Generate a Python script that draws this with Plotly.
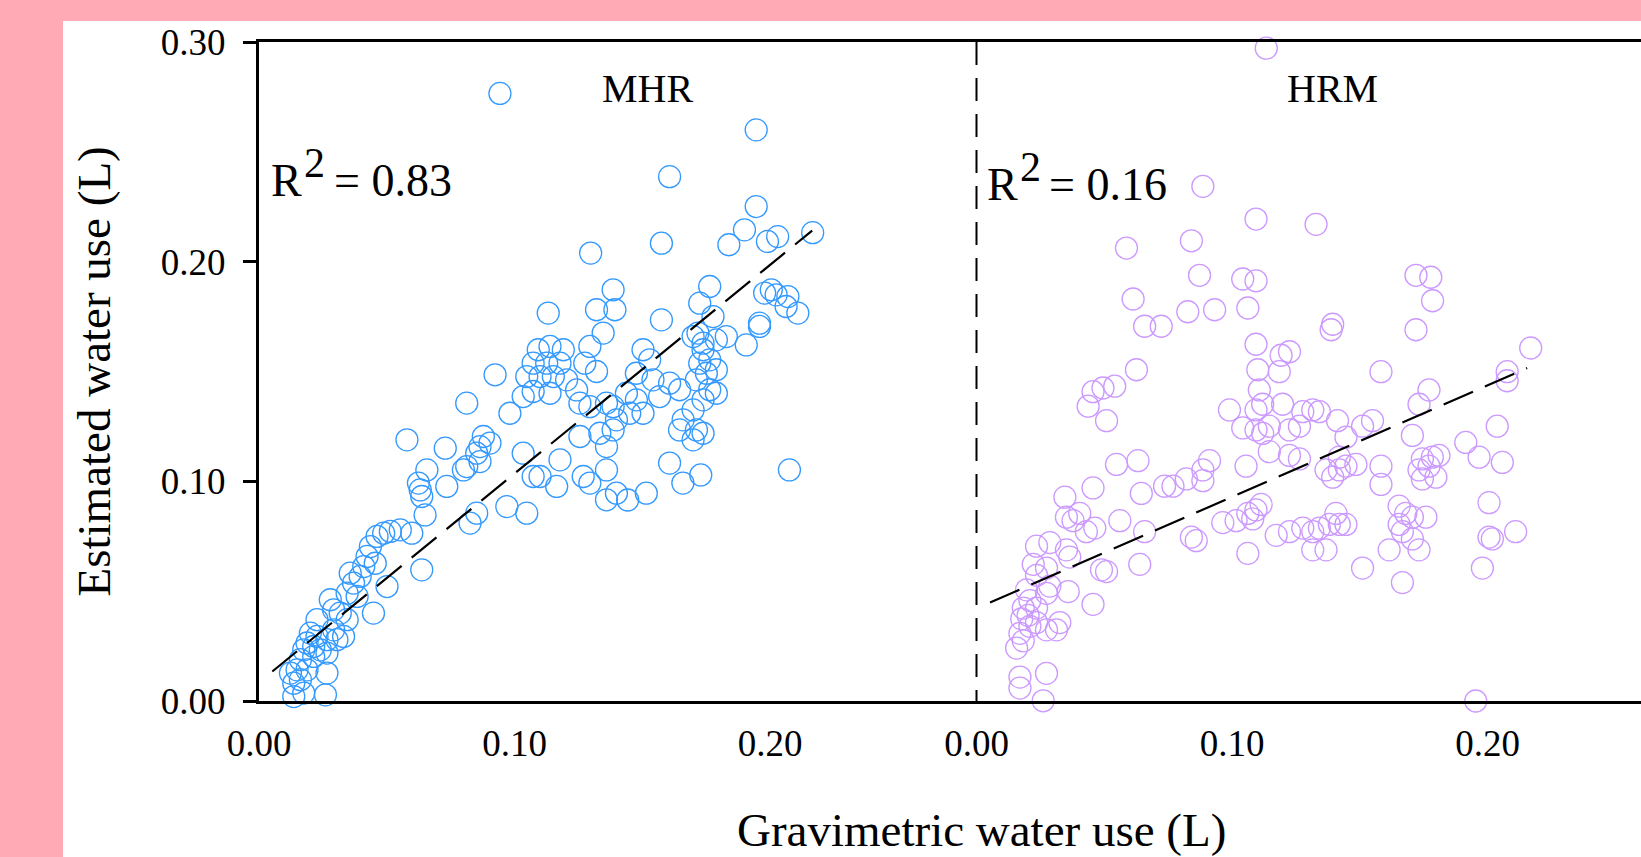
import numpy as np
import plotly.graph_objects as go

# ---------------- data ----------------
panel_titles = ["MHR", "HRM"]
r2_values = ["0.83", "0.16"]

mhr_x = [0.0943, 0.1946, 0.1607, 0.1946, 0.1900, 0.2030, 0.1990, 0.2167, 0.1839, 0.1575,
         0.1298, 0.1386, 0.1764, 0.1725, 0.1393, 0.1321, 0.1132, 0.1575, 0.1777,
         0.1979, 0.2005, 0.2024, 0.2070, 0.2109, 0.2063, 0.1959,
         0.1347, 0.1907, 0.1699, 0.1738, 0.1790, 0.1829, 0.1503, 0.1295,
         0.1093, 0.1139, 0.1191, 0.1073, 0.1126, 0.1178, 0.1048, 0.1100, 0.1152, 0.1204,
         0.1073, 0.1139, 0.1034, 0.1275, 0.1321, 0.1243,
         0.0924, 0.0813, 0.0982, 0.0878, 0.0865, 0.0904, 0.0852, 0.0800, 0.1034, 0.1073,
         0.1100, 0.1178, 0.1269, 0.1295,
         0.1360, 0.1360, 0.1386, 0.1399, 0.1451, 0.1334, 0.1256,
         0.1256, 0.1295, 0.1360, 0.1386, 0.1477, 0.1438, 0.1503,
         0.1568, 0.1607, 0.1646, 0.1529, 0.1477, 0.1542,
         0.1718, 0.1738, 0.1725, 0.1764, 0.1790, 0.1751, 0.1712, 0.1764, 0.1790, 0.1738,
         0.1699, 0.1660, 0.1646, 0.1712, 0.1738, 0.1699,
         0.1959, 0.1607, 0.1659, 0.1516, 0.1360, 0.1399, 0.2076, 0.0970, 0.1048, 0.0852,
         0.1443, 0.1729, 0.1165,
         0.0579, 0.0729, 0.0813, 0.0865, 0.0657, 0.0624, 0.0631, 0.0637, 0.0735, 0.0650,
         0.0826, 0.0598, 0.0553, 0.0514, 0.0488, 0.0462, 0.0637, 0.0436, 0.0423, 0.0410,
         0.0455, 0.0501, 0.0357, 0.0370, 0.0345, 0.0384, 0.0396, 0.0448, 0.0279, 0.0292,
         0.0318, 0.0345, 0.0331, 0.0292,
         0.0201, 0.0227, 0.0188, 0.0214, 0.0175, 0.0240, 0.0266, 0.0162, 0.0214, 0.0266,
         0.0305, 0.0149, 0.0266, 0.0162, 0.0136, 0.0175, 0.0136, 0.0260, 0.0123, 0.0188,
         0.0227]
mhr_y = [0.2766, 0.2600, 0.2387, 0.2251, 0.2145, 0.2114, 0.2092, 0.2132, 0.2077, 0.2084,
         0.2039, 0.1872, 0.1887, 0.1811, 0.1781, 0.1781, 0.1766, 0.1735, 0.1750,
         0.1857, 0.1872, 0.1849, 0.1841, 0.1766, 0.1796, 0.1720,
         0.1675, 0.1621, 0.1659, 0.1629, 0.1644, 0.1659, 0.1599, 0.1614,
         0.1599, 0.1614, 0.1599, 0.1538, 0.1538, 0.1538, 0.1477, 0.1477, 0.1477, 0.1462,
         0.1409, 0.1401, 0.1386, 0.1538, 0.1500, 0.1416,
         0.1485, 0.1356, 0.1310, 0.1204, 0.1158, 0.1174, 0.1128, 0.1052, 0.1128, 0.1022,
         0.1022, 0.1098, 0.1022, 0.0992,
         0.1052, 0.1158, 0.1234, 0.1280, 0.1310, 0.1219, 0.1204,
         0.1356, 0.1340, 0.1356, 0.1340, 0.1371, 0.1401, 0.1310,
         0.1386, 0.1447, 0.1417, 0.1553, 0.1492, 0.1462,
         0.1675, 0.1599, 0.1538, 0.1553, 0.1508, 0.1492, 0.1462, 0.1417, 0.1401, 0.1371,
         0.1325, 0.1280, 0.1234, 0.1234, 0.1219, 0.1189,
         0.1705, 0.1083, 0.0992, 0.0946, 0.0916, 0.0946, 0.1052, 0.0885, 0.0855, 0.0855,
         0.0915, 0.1029, 0.0977,
         0.1189, 0.1151, 0.1067, 0.1090, 0.1052, 0.0992, 0.0961, 0.0931, 0.0977, 0.0847,
         0.0810, 0.0764, 0.0779, 0.0772, 0.0764, 0.0749, 0.0597, 0.0703, 0.0658, 0.0612,
         0.0627, 0.0521, 0.0582, 0.0537, 0.0491, 0.0476, 0.0567, 0.0400, 0.0461, 0.0415,
         0.0400, 0.0370, 0.0294, 0.0324,
         0.0309, 0.0294, 0.0264, 0.0248, 0.0233, 0.0233, 0.0279, 0.0188, 0.0203, 0.0218,
         0.0279, 0.0142, 0.0127, 0.0097, 0.0081, 0.0036, 0.0020, 0.0028, 0.0127, 0.0142,
         0.0370]

hrm_x = [0.1134,
         0.0886, 0.1094, 0.0587, 0.0841, 0.0873, 0.1042, 0.1094, 0.0613, 0.0658, 0.0723,
         0.0827, 0.0932, 0.1062, 0.1329,
         0.0626, 0.0456, 0.0495, 0.0541, 0.0437, 0.0509,
         0.1094, 0.1192, 0.1225, 0.1185, 0.1101, 0.1107, 0.1094, 0.1120,
         0.0990, 0.1042, 0.1094, 0.1120, 0.1146, 0.1198, 0.1277, 0.1225, 0.1264, 0.1146,
         0.1225, 0.1264,
         0.0548, 0.0632, 0.0912, 0.0886, 0.0886, 0.1055, 0.0821, 0.0769, 0.0736, 0.0645,
         0.0456, 0.0346,
         0.0352, 0.0404, 0.0378, 0.0430, 0.0463, 0.0561, 0.0658, 0.0841, 0.0860,
         0.0964, 0.1016, 0.1062, 0.1094, 0.1114, 0.1081, 0.1062, 0.1173, 0.1225, 0.1277,
         0.0639,
         0.0235, 0.0287, 0.0352, 0.0365, 0.0222, 0.0274, 0.0235, 0.0489, 0.0509, 0.0359,
         0.0287, 0.0456,
         0.0196, 0.0209, 0.0183, 0.0202, 0.0177, 0.0209, 0.0170, 0.0183, 0.0157, 0.0235,
         0.0274, 0.0313, 0.0326, 0.0235, 0.0274,
         0.0274, 0.0170, 0.0170, 0.0261,
         0.1394, 0.1388, 0.1720, 0.1778, 0.1785, 0.1720, 0.1583, 0.1771, 0.1732, 0.2169,
         0.2077, 0.2077, 0.2038, 0.1915, 0.1967, 0.2058, 0.1706, 0.1550, 0.1511, 0.1316,
         0.1342, 0.1413, 0.1446, 0.1420,
         0.1368, 0.1394, 0.1420, 0.1446, 0.1485, 0.1583, 0.1583,
         0.1745, 0.1784, 0.1810, 0.1771, 0.1732, 0.1745, 0.1798,
         0.2006, 0.2006, 0.2019, 0.2110, 0.1980,
         0.1654, 0.1680, 0.1654, 0.1706, 0.1759, 0.1667, 0.1706, 0.1732, 0.1615, 0.1667,
         0.1511,
         0.1420, 0.1381, 0.1342, 0.1316, 0.1368, 0.1316, 0.1446, 0.1407,
         0.1954]
hrm_y = [0.2972,
         0.2343, 0.2194, 0.2062, 0.2095, 0.1938, 0.1921, 0.1913, 0.1830, 0.1706, 0.1706,
         0.1772, 0.1781, 0.1789, 0.2170,
         0.1508, 0.1408, 0.1425, 0.1433, 0.1342, 0.1276,
         0.1624, 0.1574, 0.1590, 0.1499, 0.1508, 0.1416, 0.1325, 0.1351,
         0.1325, 0.1243, 0.1234, 0.1218, 0.1251, 0.1351, 0.1317, 0.1234, 0.1251, 0.1135,
         0.1118, 0.1102,
         0.1077, 0.1094, 0.1094, 0.1052, 0.1003, 0.1069, 0.1011, 0.0978, 0.0978, 0.0945,
         0.0970, 0.0928,
         0.0837, 0.0854, 0.0821, 0.0771, 0.0787, 0.0821, 0.0771, 0.0746, 0.0730,
         0.0812, 0.0821, 0.0854, 0.0870, 0.0895, 0.0829, 0.0672, 0.0754, 0.0771, 0.0787,
         0.0622,
         0.0705, 0.0721, 0.0688, 0.0655, 0.0622, 0.0605, 0.0572, 0.0597, 0.0589, 0.0498,
         0.0523, 0.0440,
         0.0506, 0.0457, 0.0423, 0.0390, 0.0374, 0.0340, 0.0308, 0.0274, 0.0241, 0.0357,
         0.0324, 0.0324, 0.0357, 0.0423, 0.0490,
         0.0126, 0.0109, 0.0059, 0.0001,
         0.1715, 0.1690, 0.1938, 0.1929, 0.1822, 0.1690, 0.1499, 0.1416, 0.1351, 0.1607,
         0.1499, 0.1458, 0.1251, 0.1177, 0.1110, 0.1086, 0.1209, 0.1276, 0.1251, 0.1325,
         0.1317, 0.1276, 0.1201, 0.1110,
         0.1052, 0.1019, 0.1052, 0.1069, 0.1077, 0.1069, 0.0986,
         0.1102, 0.1110, 0.1118, 0.1069, 0.1052, 0.1011, 0.1019,
         0.0903, 0.0746, 0.0738, 0.0771, 0.0605,
         0.0887, 0.0854, 0.0804, 0.0837, 0.0837, 0.0771, 0.0738, 0.0688, 0.0688, 0.0539,
         0.0605,
         0.0804, 0.0804, 0.0787, 0.0771, 0.0688, 0.0688, 0.0804, 0.0854,
         0.0000]

# linear fits (slope, intercept) and x-extent of each fitted line
fit_slope = [0.950, 0.508]
fit_intercept = [0.0085, 0.0421]
fit_xmin = [0.0052, 0.0053]
fit_xmax = [0.2165, 0.2155]

y_tickvals = [0.0, 0.1, 0.2, 0.3]
y_ticktext = ["0.00", "0.10", "0.20", "0.30"]
x_tickvals = [0.0, 0.1, 0.2]
x_ticktext = ["0.00", "0.10", "0.20"]

x_title = "Gravimetric water use (L)"
y_title = "Estimated water use (L)"

# ---------------- styling / layout ----------------
W, H = 1641, 857
ML, MR, MT, MB = 259, 0, 42, 156
PW, PH = W - ML - MR, H - MT - MB
PX_PER_UNIT = 2555.0
SPLIT_PX = 976.5
d_split = (SPLIT_PX - ML) / PW
xr1 = (SPLIT_PX - ML) / PX_PER_UNIT
xr2 = (W - SPLIT_PX) / PX_PER_UNIT
FONT = "Liberation Serif, Times New Roman, serif"
PINK = "#FFAAB4"
BLUE = "#3399FF"
PURPLE = "#CC99FF"
Y_PER_UNIT = PH / 0.3


def px_to_paper_x(px):
    return (px - ML) / PW


def px_to_paper_y(py):
    return (H - MB - py) / PH


fig = go.Figure()

series = [(mhr_x, mhr_y, BLUE, "x", "y"), (hrm_x, hrm_y, PURPLE, "x2", "y2")]
for i, (xs, ys, col, xa, ya) in enumerate(series):
    fig.add_trace(go.Scatter(
        x=xs, y=ys, mode="markers", xaxis=xa, yaxis=ya, cliponaxis=False,
        marker=dict(symbol="circle-open", size=22, color=col, line=dict(width=1.3, color=col)),
        showlegend=False, hoverinfo="skip"))
    fx = np.array([fit_xmin[i], fit_xmax[i]])
    fy = fit_slope[i] * fx + fit_intercept[i]
    fig.add_trace(go.Scatter(
        x=fx, y=fy, mode="lines", xaxis=xa, yaxis=ya,
        line=dict(color="black", width=2.2, dash="32px,13px"),
        showlegend=False, hoverinfo="skip"))

axis_common = dict(showgrid=False, zeroline=False, showline=True, linecolor="black",
                   linewidth=3, tickfont=dict(family=FONT, size=37, color="black"))

fig.update_layout(
    width=W, height=H,
    margin=dict(l=ML, r=MR, t=MT, b=MB, pad=0),
    paper_bgcolor=PINK, plot_bgcolor="white",
    xaxis=dict(domain=[0, d_split], range=[0, xr1], anchor="y", mirror=True,
               tickvals=x_tickvals, ticktext=x_ticktext, ticks="",
               ticklabelstandoff=8, **axis_common),
    xaxis2=dict(domain=[d_split, 1], range=[0, xr2], anchor="y2", mirror=True,
                tickvals=x_tickvals, ticktext=x_ticktext, ticks="",
                ticklabelstandoff=8, **axis_common),
    yaxis=dict(domain=[0, 1], range=[0, 0.3], anchor="x",
               tickvals=y_tickvals, ticktext=y_ticktext, ticks="outside",
               ticklen=13, tickwidth=3, tickcolor="black", ticklabelstandoff=10,
               **axis_common),
    yaxis2=dict(domain=[0, 1], range=[0, 0.3], anchor="x2", matches="y",
                showgrid=False, zeroline=False, showline=False, showticklabels=False,
                ticks=""),
)

shapes = [
    dict(type="rect", xref="paper", yref="paper", layer="below",
         x0=px_to_paper_x(63), x1=1.05, y0=px_to_paper_y(H + 20), y1=px_to_paper_y(21),
         fillcolor="white", line=dict(width=0)),
    dict(type="line", xref="paper", yref="paper", x0=d_split, x1=d_split, y0=1, y1=0,
         line=dict(color="black", width=2, dash="23px,13px")),
]
fig.update_layout(shapes=shapes)

annotations = []
for i, (xa, ya) in enumerate([("x", "y"), ("x2", "y2")]):
    origin = [float(ML), SPLIT_PX][i]
    title_cx = [647.5, 1332.0][i]
    annotations.append(dict(
        text=panel_titles[i], xref=xa, yref=ya,
        x=(title_cx - origin) / PX_PER_UNIT, y=(H - MB - 88) / Y_PER_UNIT,
        xanchor="center", yanchor="middle", showarrow=False,
        font=dict(family=FONT, size=40, color="black")))
    # R^2 label built from three pieces: "R", raised "2", "= value"
    r_left = [270.0, 986.0][i]
    sup_left = [303.0, 1019.0][i]
    eq_left = [333.0, 1048.0][i]
    r_bottom = [207.0, 211.0][i]
    sup_bottom = [187.0, 191.0][i]
    for txt, left, bottom, size in [("R", r_left, r_bottom, 46),
                                    ("2", sup_left, sup_bottom, 42),
                                    ("= " + r2_values[i], eq_left, r_bottom, 46)]:
        annotations.append(dict(
            text=txt, xref=xa, yref=ya,
            x=(left - origin) / PX_PER_UNIT, y=(H - MB - bottom) / Y_PER_UNIT,
            xanchor="left", yanchor="bottom", showarrow=False, borderpad=0,
            font=dict(family=FONT, size=size, color="black")))

annotations.append(dict(
    text=x_title, xref="paper", yref="paper",
    x=px_to_paper_x(981.5), y=px_to_paper_y(830),
    xanchor="center", yanchor="middle", showarrow=False,
    font=dict(family=FONT, size=47, color="black")))
annotations.append(dict(
    text=y_title, xref="paper", yref="paper", textangle=-90,
    x=px_to_paper_x(93), y=px_to_paper_y(371.5),
    xanchor="center", yanchor="middle", showarrow=False,
    font=dict(family=FONT, size=47, color="black")))
fig.update_layout(annotations=annotations)

fig.write_html(
    "out.html",
    config={"displayModeBar": False},
    post_script="document.body.style.margin='0px';document.body.style.background='" + PINK + "';",
)
